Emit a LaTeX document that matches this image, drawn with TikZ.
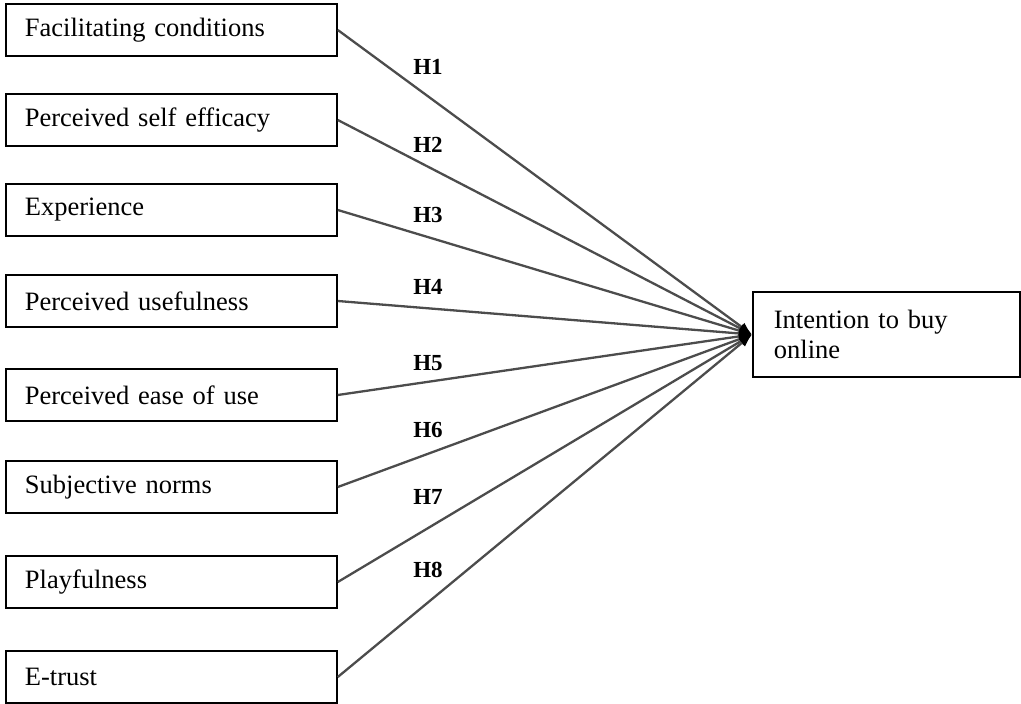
\documentclass[tikz,border=0pt]{standalone}
\usepackage{fontspec}
\setmainfont{Liberation Serif}
\usetikzlibrary{arrows.meta}

\begin{document}
\begin{tikzpicture}[x=1pt,y=-1pt,
        factor/.style={draw,line width=1.8pt,rectangle,anchor=west,inner xsep=19pt,text width=293pt,minimum height=52pt,align=left,font=\fontsize{26.5}{30}\selectfont},
        outcome/.style={draw,line width=1.8pt,rectangle,anchor=west,inner xsep=21pt,text width=225pt,minimum height=85pt,align=left,font=\fontsize{26.5}{30}\selectfont},
        hyp/.style={line width=2.3pt,draw=black!70,-{Latex[black,length=13pt,width=10pt]}},
        hlabel/.style={font=\fontsize{23}{26}\selectfont\bfseries}]
        \useasboundingbox (0,0) rectangle (1021,704);
        \begin{scope}
            \node[factor] (fc) at (5,30) {Facilitating conditions};
            \node[factor] (pse) at (5,120) {Perceived self efficacy};
            \node[factor] (exper) at (5,210) {Experience};
            \node[factor] (pu) at (5,301) {Perceived usefulness};
            \node[factor] (peou) at (5,395) {Perceived ease of use};
            \node[factor] (sn) at (5,487) {Subjective norms};
            \node[factor] (play) at (5,582) {Playfulness};
            \node[factor] (etrust) at (5,677) {E-trust};
        \end{scope}
        \node[outcome] (intent) at (752,334.5) {Intention to buy\\online};
        %\node[outcome] (intent) at (752,330) {Intention to buy online};
        \draw[hyp] (fc.east) -- (intent.west);
        \draw[hyp] (pse.east) -- (intent.west);
        \draw[hyp] (exper.east) -- (intent.west);
        \draw[hyp] (pu.east) -- (intent.west);
        \draw[hyp] (peou.east) -- (intent.west);
        \draw[hyp] (sn.east) -- (intent.west);
        \draw[hyp] (play.east) -- (intent.west);
        \draw[hyp] (etrust.east) -- (intent.west);
        \node[hlabel] (h1) at (428,67) {H1};
        \node[hlabel] (h2) at (428,145) {H2};
        \node[hlabel] (h3) at (428,215) {H3};
        \node[hlabel] (h4) at (428,287) {H4};
        \node[hlabel] (h5) at (428,363) {H5};
        \node[hlabel] (h6) at (428,430) {H6};
        \node[hlabel] (h7) at (428,497) {H7};
        \node[hlabel] (h8) at (428,570) {H8};
    \end{tikzpicture}
\end{document}
